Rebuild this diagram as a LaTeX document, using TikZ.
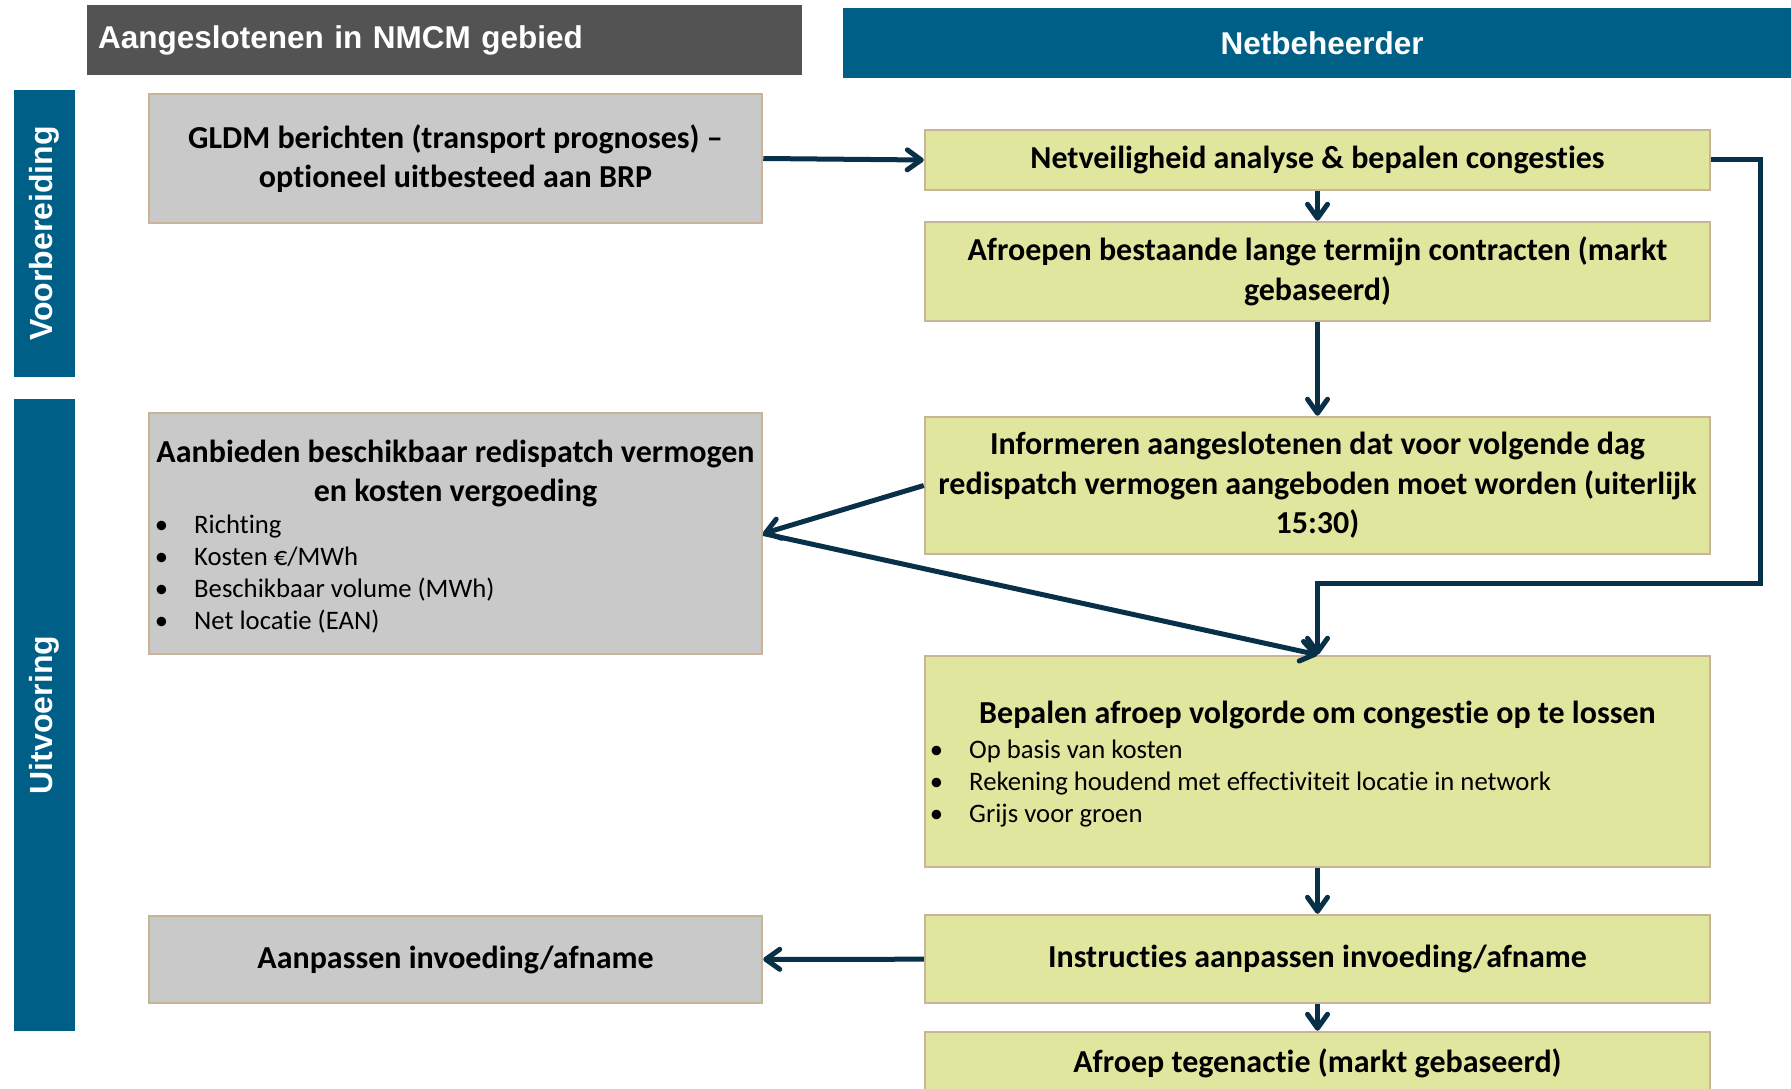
\documentclass[tikz,border=0pt]{standalone}
\usepackage{fontspec}
\setmainfont{Carlito}[Ligatures=CommonOff]
\newfontfamily\hdfont{Liberation Sans}
\usetikzlibrary{arrows.meta}

\definecolor{nmcmgrey}{RGB}{83,83,83}
\definecolor{nbblue}{RGB}{0,95,135}
\definecolor{boxgrey}{RGB}{201,201,201}
\definecolor{boxgreen}{RGB}{224,230,157}
\definecolor{boxedge}{RGB}{200,180,150}
\definecolor{flowblue}{RGB}{8,48,72}

\begin{document}
\begin{tikzpicture}[x=1pt, y=-1pt,
  hdr/.style={font=\hdfont\fontsize{31.5}{36}\selectfont\bfseries, text=white, inner sep=0pt, minimum height=70pt},
  lane/.style={fill=nbblue, text=white, rotate=90, minimum height=61pt, inner sep=0pt, font=\hdfont\fontsize{32}{36}\selectfont\bfseries},
  grijs/.style={draw=boxedge, line width=2.5pt, fill=boxgrey, minimum width=613pt, inner sep=0pt, align=center, font=\fontsize{32}{39.5}\selectfont\bfseries},
  groen/.style={grijs, fill=boxgreen, minimum width=785pt},
  kop/.style={inner sep=0pt, align=center, font=\fontsize{32}{38.5}\selectfont\bfseries},
  punt/.style={inner sep=0pt, anchor=base west, font=\fontsize{26.7}{32}\selectfont},
  flow/.style={draw=flowblue, line width=5pt, -{Straight Barb[length=14pt, width=20pt, round]}}]
\useasboundingbox (0,0) rectangle (1791,1089);

% kopjes
\node[hdr, fill=nmcmgrey, anchor=north west, text width=693pt, inner xsep=11pt, align=left] (aang) at (87,5) {Aangeslotenen in NMCM gebied};
\node[hdr, fill=nbblue, anchor=north west, minimum width=958pt] (netb) at (843,8) {Netbeheerder};
\node[lane, minimum width=287pt] (voorb) at (44.5,233.5) {Voorbereiding};
\node[lane, minimum width=632pt] (uitv) at (44.5,715) {Uitvoering};

% aangeslotenen
\node[grijs, minimum height=129pt] (gldm) at (455.5,158.5) {GLDM berichten (transport prognoses) --\\optioneel uitbesteed aan BRP};
\node[grijs, minimum height=241pt] (aanb) at (455.5,533.5) {};
\node[kop, anchor=north] (aanb-kop) at (455.5,440) {Aanbieden beschikbaar redispatch vermogen\\en kosten vergoeding};
\foreach \t [count=\i] in {Richting, Kosten €/MWh, Beschikbaar volume (MWh), Net locatie (EAN)}
  \node[punt] (aanb-\i) at (194,501+32*\i) {\llap{\textbullet\hspace{26pt}}\t};
\node[grijs, minimum height=87pt] (aanp) at (455.5,959.5) {Aanpassen invoeding/afname};

% netbeheerder
\node[groen, minimum height=60pt] (netv) at (1317.5,160) {Netveiligheid analyse \& bepalen congesties};
\node[groen, minimum height=99pt] (afr) at (1317.5,271.5) {Afroepen bestaande lange termijn contracten (markt\\gebaseerd)};
\node[groen, minimum height=137pt] (inf) at (1317.5,485.5) {Informeren aangeslotenen dat voor volgende dag\\redispatch vermogen aangeboden moet worden (uiterlijk\\15:30)};
\node[groen, minimum height=211pt] (bep) at (1317.5,761.5) {};
\node[kop, anchor=base] (bep-kop) at (1317.5,723) {Bepalen afroep volgorde om congestie op te lossen};
\foreach \t [count=\i] in {Op basis van kosten, Rekening houdend met effectiviteit locatie in network, Grijs voor groen}
  \node[punt] (bep-\i) at (969,726+32*\i) {\llap{\textbullet\hspace{26pt}}\t};
\node[groen, minimum height=88pt] (instr) at (1317.5,959) {Instructies aanpassen invoeding/afname};
\node[groen, minimum height=62pt] (tegen) at (1317.5,1063) {Afroep tegenactie (markt gebaseerd)};

% pijlen
\coordinate (lus) at (1760,583);
\draw[flow] (gldm.east) -- (netv.west);
\draw[flow] (netv) -- (afr);
\draw[flow] (afr) -- (inf);
\draw[flow] (netv.east) -| (lus) -| (bep.north);
\draw[flow] (inf.west) -- (aanb.east);
\draw[flow] (aanb.east) -- (bep.north);
\draw[flow] (bep) -- (instr);
\draw[flow] (instr) -- (aanp);
\draw[flow] (instr) -- (tegen);
\end{tikzpicture}
\end{document}
